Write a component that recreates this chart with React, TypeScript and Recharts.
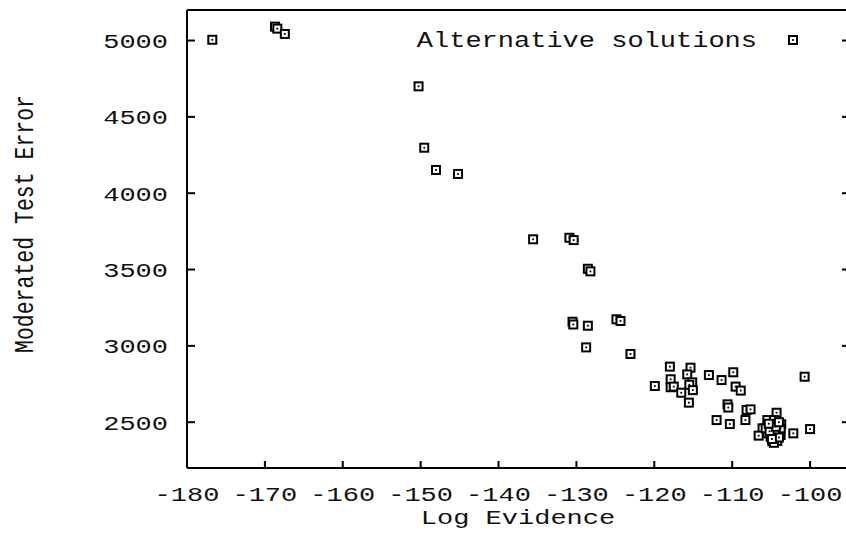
import React from 'react';
import { ScatterChart, Scatter, XAxis, YAxis, Legend } from 'recharts';

// ---- data ----
const logEvidence = [
  -176.75, -168.7, -168.4, -167.44, -150.27, -149.54, -148.03, -145.2,
  -135.56, -130.9, -130.35, -128.53, -128.2, -130.5, -130.4, -128.53,
  -124.86, -124.34, -128.75, -123.06,
  -119.93, -118.0, -117.9, -117.9, -117.5, -116.54, -115.35, -115.77,
  -115.13, -115.5, -115.05, -115.56, -112.99, -111.36, -109.86, -109.56,
  -108.9, -110.6, -110.5, -112.0, -110.3, -108.15, -107.64, -108.3,
  -100.7, -104.3, -103.7, -106.1, -106.6, -102.15, -100.0,
  -105.49, -104.64, -104.2, -105.1, -104.85, -104.2, -103.78, -105.06,
  -104.42, -104.85, -104.2, -104.64, -105.49, -103.78, -105.7,
  -104.5, -105.2, -104.0, -104.9, -104.4, -105.3, -104.0,
];
const testError = [
  5005, 5091, 5078, 5043, 4700, 4298, 4152, 4126,
  3698, 3708, 3693, 3505, 3488, 3158, 3140, 3132,
  3174, 3163, 2990, 2947,
  2737, 2864, 2781, 2729, 2733, 2693, 2857, 2813,
  2761, 2745, 2710, 2628, 2809, 2776, 2827, 2733,
  2707, 2617, 2596, 2514, 2488, 2580, 2584, 2514,
  2798, 2562, 2486, 2460, 2412, 2427, 2455,
  2514, 2514, 2482, 2471, 2449, 2438, 2416, 2405,
  2395, 2375, 2378, 2365, 2427, 2460, 2460,
  2425, 2440, 2400, 2390, 2470, 2490, 2500,
];
const xTicks = [-180, -170, -160, -150, -140, -130, -120, -110, -100];
const yTicks = [2500, 3000, 3500, 4000, 4500, 5000];
const xDomain = [-180, -95];
const yDomain = [2200, 5200];
const seriesName = 'Alternative solutions';
const xTitle = 'Log Evidence';
const yTitle = 'Moderated Test Error';

const data = logEvidence.map((x, i) => ({ x, y: testError[i] }));

const FONT = '"Liberation Mono", "DejaVu Sans Mono", monospace';
const CHAR = 16.2; // horizontal advance per character in the reference
const INK = '#111';
const TICK = 7;

const HText = ({ x, y, anchor, text, size = 21 }: any) => (
  <text
    x={x}
    y={y}
    textAnchor={anchor}
    fontFamily={FONT}
    fontSize={size}
    fill={INK}
    textLength={text.length * CHAR}
    lengthAdjust="spacingAndGlyphs"
  >
    {text}
  </text>
);

const BottomTick = (props: any) => {
  const { x, y, payload } = props;
  const label = String(payload.value);
  return (
    <g>
      <line x1={x} y1={y} x2={x} y2={y - TICK} stroke="#000" strokeWidth={2} />
      <HText x={x} y={y + 33} anchor="middle" text={label} />
    </g>
  );
};

const LeftTick = (props: any) => {
  const { x, y, payload } = props;
  const label = String(payload.value);
  return (
    <g>
      <line x1={x} y1={y} x2={x + TICK + 1} y2={y} stroke="#000" strokeWidth={2} />
      <HText x={x - 19} y={y + 7.5} anchor="end" text={label} />
    </g>
  );
};

const TopTick = (props: any) => {
  const { x, y } = props;
  return <line x1={x} y1={y} x2={x} y2={y + TICK} stroke="#000" strokeWidth={2} />;
};

const RightTick = (props: any) => {
  const { x, y } = props;
  return <line x1={x} y1={y} x2={x - TICK} y2={y} stroke="#000" strokeWidth={2} />;
};

const Marker = (props: any) => {
  const { cx, cy } = props;
  if (cx == null || cy == null) return null;
  return (
    <g>
      <rect x={cx - 4} y={cy - 4} width={8} height={8} fill="#fff" stroke="#000" strokeWidth={2} />
      <rect x={cx - 0.9} y={cy - 0.9} width={1.8} height={1.8} fill="#000" />
    </g>
  );
};

const XTitle = (props: any) => {
  const vb = props.viewBox || { x: 187, y: 468, width: 662, height: 65 };
  return <HText x={vb.x + vb.width / 2} y={vb.y + 56} anchor="middle" text={xTitle} />;
};

const YTitle = (props: any) => {
  const vb = props.viewBox || { x: 0, y: 10, width: 187, height: 458 };
  const cy = vb.y + vb.height / 2 - 15;
  return (
    <text
      transform={`translate(${vb.x + 33}, ${cy}) rotate(-90)`}
      textAnchor="middle"
      fontFamily={FONT}
      fontSize={27}
      fill={INK}
      textLength={258}
      lengthAdjust="spacingAndGlyphs"
    >
      {yTitle}
    </text>
  );
};

const LegendContent = (props: any) => {
  const item = props.payload && props.payload[0];
  const label = item ? String(item.value) : seriesName;
  return (
    <svg width={858} height={60} style={{ display: 'block' }}>
      <HText x={757} y={47} anchor="end" text={label} size={22} />
      <Marker cx={793} cy={40} />
    </svg>
  );
};

const axisLine = { stroke: '#000', strokeWidth: 2 };

export default function App() {
  return (
    <div
      style={{
        position: 'absolute',
        left: 0,
        top: 0,
        width: 846,
        height: 533,
        overflow: 'hidden',
        background: '#fff',
      }}
    >
      <ScatterChart width={858} height={533} margin={{ top: 9, right: 8, left: 0, bottom: 0 }}>
        <XAxis
          dataKey="x"
          type="number"
          domain={xDomain}
          allowDataOverflow
          ticks={xTicks}
          interval={0}
          height={65}
          tickSize={0}
          tickMargin={0}
          tickLine={false}
          tick={BottomTick}
          axisLine={axisLine}
          label={{ value: xTitle, content: XTitle }}
        />
        <XAxis
          xAxisId="top"
          orientation="top"
          type="number"
          domain={xDomain}
          allowDataOverflow
          ticks={xTicks}
          interval={0}
          height={1}
          tickSize={0}
          tickMargin={0}
          tickLine={false}
          tick={TopTick}
          axisLine={axisLine}
        />
        <YAxis
          dataKey="y"
          type="number"
          domain={yDomain}
          allowDataOverflow
          ticks={yTicks}
          interval={0}
          width={187}
          tickSize={0}
          tickMargin={0}
          tickLine={false}
          tick={LeftTick}
          axisLine={axisLine}
          label={{ value: yTitle, content: YTitle }}
        />
        <YAxis
          yAxisId="right"
          orientation="right"
          type="number"
          domain={yDomain}
          allowDataOverflow
          ticks={yTicks}
          interval={0}
          width={1}
          tickSize={0}
          tickMargin={0}
          tickLine={false}
          tick={RightTick}
          axisLine={axisLine}
        />
        <Legend
          layout="horizontal"
          verticalAlign="middle"
          align="center"
          content={LegendContent}
          wrapperStyle={{ position: 'absolute', left: 0, top: 0, width: 858, height: 60 }}
        />
        <Scatter
          name={seriesName}
          data={data}
          shape={Marker}
          isAnimationActive={false}
          legendType="square"
        />
      </ScatterChart>
    </div>
  );
}
